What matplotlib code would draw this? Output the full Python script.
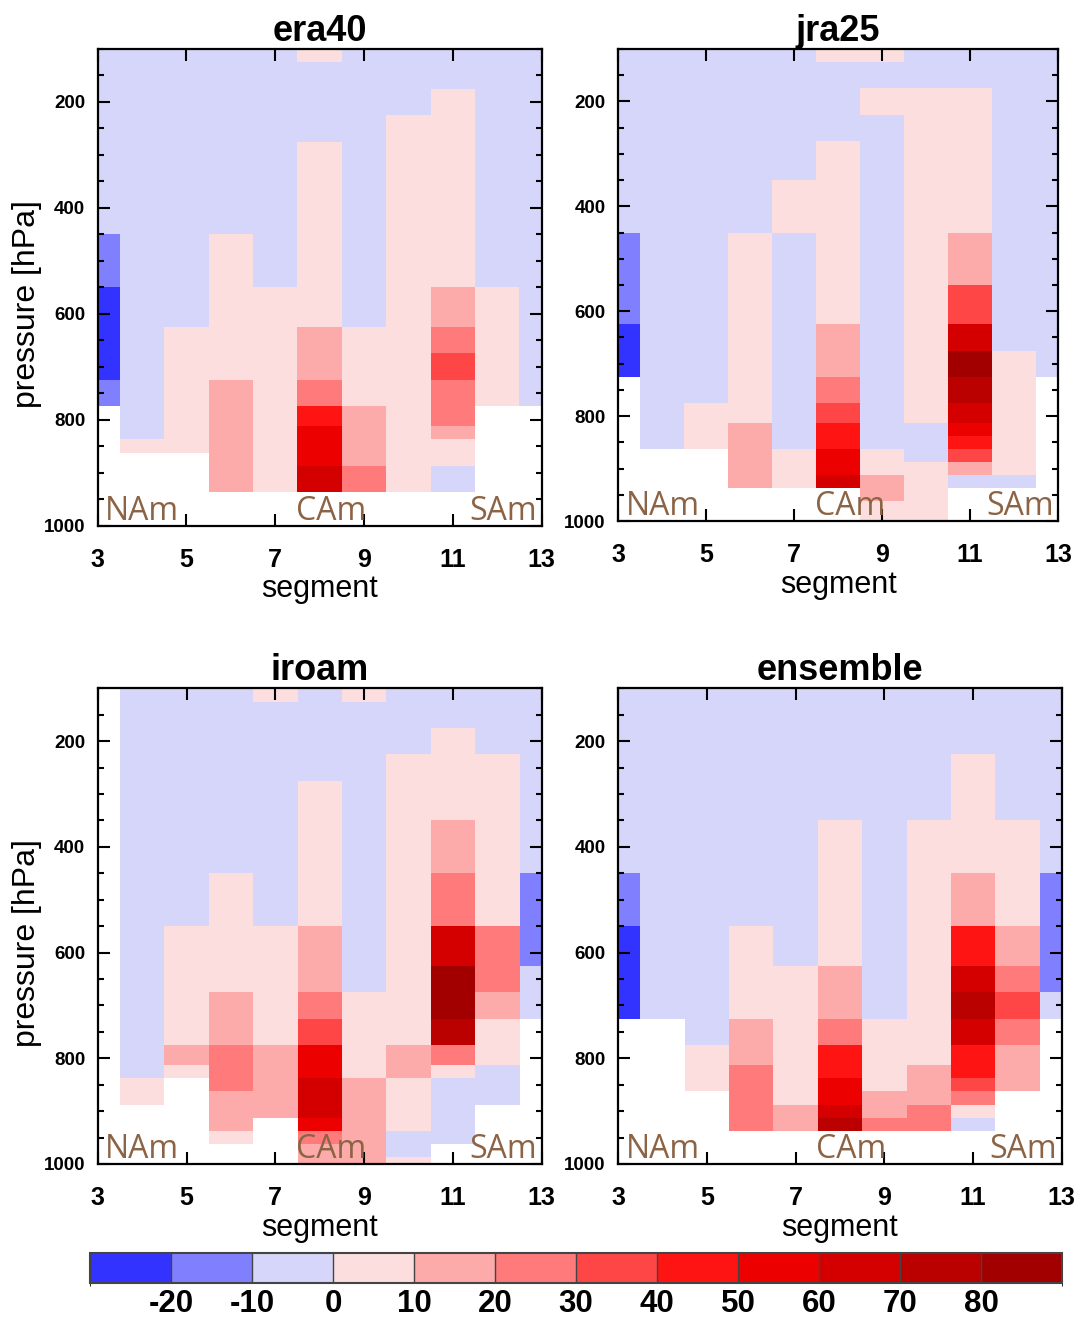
import numpy as np
import matplotlib
matplotlib.use("Agg")
import matplotlib.pyplot as plt
from matplotlib.colors import ListedColormap, BoundaryNorm
from matplotlib.ticker import MultipleLocator

plt.rcParams['font.family'] = ['Liberation Sans', 'DejaVu Sans']
plt.rcParams['axes.unicode_minus'] = False

N = np.nan

# segment numbers (columns) and pressure levels (rows, top to bottom)
segments = [3, 4, 5, 6, 7, 8, 9, 10, 11, 12, 13]
levels = [100, 150, 200, 250, 300, 400, 500, 600, 650, 700,
          750, 800, 825, 850, 875, 900, 925, 950, 975, 1000]

# contour levels and fill colours
bounds = [-30, -20, -10, 0, 10, 20, 30, 40, 50, 60, 70, 80, 90]
cb_ticks = [-20, -10, 0, 10, 20, 30, 40, 50, 60, 70, 80]
colors = ['#3333ff', '#8080ff', '#d6d6fa', '#fcdede', '#fcaaaa', '#ff7a7a',
          '#ff4646', '#ff1414', '#ec0000', '#d40000', '#bb0000', '#a20000']

era40 = [
    [-5, -5, -5, -5, -5, 5, -5, -5, -5, -5, -5],
    [-5, -5, -5, -5, -5, -5, -5, -5, -5, -5, -5],
    [-5, -5, -5, -5, -5, -5, -5, -5, 5, -5, -5],
    [-5, -5, -5, -5, -5, -5, -5, 5, 5, -5, -5],
    [-5, -5, -5, -5, -5, 5, -5, 5, 5, -5, -5],
    [-5, -5, -5, -5, -5, 5, -5, 5, 5, -5, -5],
    [-15, -5, -5, 5, -5, 5, -5, 5, 5, -5, -5],
    [-25, -5, -5, 5, 5, 5, -5, 5, 15, 5, -5],
    [-25, -5, 5, 5, 5, 15, 5, 5, 25, 5, -5],
    [-25, -5, 5, 5, 5, 15, 5, 5, 35, 5, -5],
    [-15, -5, 5, 15, 5, 25, 5, 5, 25, 5, -5],
    [N, -5, 5, 15, 5, 45, 15, 5, 25, N, N],
    [N, -5, 5, 15, 5, 55, 15, 5, 15, N, N],
    [N, 5, 5, 15, 5, 55, 15, 5, 5, N, N],
    [N, N, N, 15, 5, 55, 15, 5, 5, N, N],
    [N, N, N, 15, 5, 65, 25, 5, -5, N, N],
    [N, N, N, 15, 5, 65, 25, 5, -5, N, N],
    [N, N, N, N, N, N, N, N, N, N, N],
    [N, N, N, N, N, N, N, N, N, N, N],
    [N, N, N, N, N, N, N, N, N, N, N],
]

jra25 = [
    [-5, -5, -5, -5, -5, 5, 5, -5, -5, -5, -5],
    [-5, -5, -5, -5, -5, -5, -5, -5, -5, -5, -5],
    [-5, -5, -5, -5, -5, -5, 5, 5, 5, -5, -5],
    [-5, -5, -5, -5, -5, -5, -5, 5, 5, -5, -5],
    [-5, -5, -5, -5, -5, 5, -5, 5, 5, -5, -5],
    [-5, -5, -5, -5, 5, 5, -5, 5, 5, -5, -5],
    [-15, -5, -5, 5, -5, 5, -5, 5, 15, -5, -5],
    [-15, -5, -5, 5, -5, 5, -5, 5, 35, -5, -5],
    [-25, -5, -5, 5, -5, 15, -5, 5, 65, -5, -5],
    [-25, -5, -5, 5, -5, 15, -5, 5, 85, 5, -5],
    [N, -5, -5, 5, -5, 25, -5, 5, 75, 5, N],
    [N, -5, 5, 5, -5, 35, -5, 5, 65, 5, N],
    [N, -5, 5, 15, -5, 45, -5, -5, 55, 5, N],
    [N, -5, 5, 15, -5, 45, -5, -5, 45, 5, N],
    [N, N, N, 15, 5, 55, 5, -5, 35, 5, N],
    [N, N, N, 15, 5, 55, 5, 5, 15, 5, N],
    [N, N, N, 15, 5, 65, 15, 5, -5, -5, N],
    [N, N, N, N, N, N, 15, 5, N, N, N],
    [N, N, N, N, N, N, 5, 5, N, N, N],
    [N, N, N, N, N, N, 5, 5, N, N, N],
]

iroam = [
    [N, -5, -5, -5, 5, -5, 5, -5, -5, -5, -5],
    [N, -5, -5, -5, -5, -5, -5, -5, -5, -5, -5],
    [N, -5, -5, -5, -5, -5, -5, -5, 5, -5, -5],
    [N, -5, -5, -5, -5, -5, -5, 5, 5, 5, -5],
    [N, -5, -5, -5, -5, 5, -5, 5, 5, 5, -5],
    [N, -5, -5, -5, -5, 5, -5, 5, 15, 5, -5],
    [N, -5, -5, 5, -5, 5, -5, 5, 25, 5, -15],
    [N, -5, 5, 5, 5, 15, -5, 5, 65, 25, -15],
    [N, -5, 5, 5, 5, 15, -5, 5, 85, 25, -5],
    [N, -5, 5, 15, 5, 25, 5, 5, 85, 15, -5],
    [N, -5, 5, 15, 5, 35, 5, 5, 75, 5, N],
    [N, -5, 15, 25, 15, 55, 5, 15, 25, 5, N],
    [N, -5, 5, 25, 15, 55, 5, 15, 5, -5, N],
    [N, 5, N, 25, 15, 65, 15, 5, -5, -5, N],
    [N, 5, N, 15, 15, 65, 15, 5, -5, -5, N],
    [N, N, N, 15, 15, 65, 15, 5, -5, N, N],
    [N, N, N, 15, N, 55, 15, 5, -5, N, N],
    [N, N, N, 5, N, 25, 15, -5, -5, N, N],
    [N, N, N, N, N, 15, 15, -5, N, N, N],
    [N, N, N, N, N, 15, 15, 5, N, N, N],
]

ensemble = [
    [-5, -5, -5, -5, -5, -5, -5, -5, -5, -5, -5],
    [-5, -5, -5, -5, -5, -5, -5, -5, -5, -5, -5],
    [-5, -5, -5, -5, -5, -5, -5, -5, -5, -5, -5],
    [-5, -5, -5, -5, -5, -5, -5, -5, 5, -5, -5],
    [-5, -5, -5, -5, -5, -5, -5, -5, 5, -5, -5],
    [-5, -5, -5, -5, -5, 5, -5, 5, 5, 5, -5],
    [-15, -5, -5, -5, -5, 5, -5, 5, 15, 5, -15],
    [-25, -5, -5, 5, -5, 5, -5, 5, 45, 15, -15],
    [-25, -5, -5, 5, 5, 15, -5, 5, 65, 25, -15],
    [-25, -5, -5, 5, 5, 15, -5, 5, 75, 35, -5],
    [N, N, -5, 15, 5, 25, 5, 5, 65, 25, N],
    [N, N, 5, 15, 5, 45, 5, 5, 45, 15, N],
    [N, N, 5, 25, 5, 45, 5, 15, 45, 15, N],
    [N, N, 5, 25, 5, 55, 5, 15, 35, 15, N],
    [N, N, N, 25, 5, 55, 15, 15, 25, N, N],
    [N, N, N, 25, 15, 65, 15, 25, 5, N, N],
    [N, N, N, 25, 15, 75, 25, 25, -5, N, N],
    [N, N, N, N, N, N, N, N, N, N, N],
    [N, N, N, N, N, N, N, N, N, N, N],
    [N, N, N, N, N, N, N, N, N, N, N],
]

panels = [('era40', era40), ('jra25', jra25), ('iroam', iroam), ('ensemble', ensemble)]
regions = ['NAm', 'CAm', 'SAm']

# cell edges halfway between grid points
def edges(c):
    c = np.asarray(c, dtype=float)
    mid = 0.5 * (c[1:] + c[:-1])
    return np.concatenate([[c[0] - (mid[0] - c[0])], mid, [c[-1] + (c[-1] - mid[-1])]])

xe = edges(segments)
ye = edges(levels)

cmap = ListedColormap(colors)
cmap.set_bad('white')
norm = BoundaryNorm(bounds, cmap.N)

fig = plt.figure(figsize=(10.81, 13.21), dpi=100)
W, H = 1081., 1321.
# panel boxes in pixels: left, top, right, bottom
boxes = [(97.7, 49, 541.5, 525.5), (618.3, 49, 1058, 521),
         (97.7, 688.3, 541.7, 1164), (618.3, 688.3, 1061.7, 1164)]

for i, ((name, data), (l, t, r, b)) in enumerate(zip(panels, boxes)):
    ax = fig.add_axes([l / W, 1 - b / H, (r - l) / W, (b - t) / H])
    z = np.ma.masked_invalid(np.array(data, dtype=float))
    pm = ax.pcolormesh(xe, ye, z, cmap=cmap, norm=norm, edgecolors='none',
                       linewidth=0, antialiased=False)
    ax.set_xlim(3, 13)
    ax.set_ylim(1000, 100)
    ax.set_xticks([3, 5, 7, 9, 11, 13])
    ax.set_yticks([200, 400, 600, 800, 1000])
    ax.yaxis.set_minor_locator(MultipleLocator(50))
    ax.tick_params(which='both', direction='in', top=True, right=True, width=1.5, color='black')
    ax.tick_params(which='major', length=8.5)
    ax.tick_params(which='minor', length=4.5)
    ax.tick_params(axis='x', labelsize=18, pad=16)
    ax.tick_params(axis='y', labelsize=13.5, pad=9)
    for lab in ax.get_yticklabels() + ax.get_xticklabels():
        lab.set_fontweight('bold')
    for sp in ax.spines.values():
        sp.set_linewidth(1.6)
    ax.set_title(name, fontsize=26, fontweight='bold', pad=3)
    ax.set_xlabel('segment', fontsize=22, labelpad=2)
    if i % 2 == 0:
        ax.set_ylabel('pressure [hPa]', fontsize=23)
        ax.yaxis.set_label_coords(-0.125, 0.465)

    txt = dict(fontsize=23, color='#8c6445', family='Open Sans', va='baseline',
               transform=ax.transAxes)
    ax.text(0.017, 0.012, regions[0], ha='left', **txt)
    ax.text(0.447, 0.012, regions[1], ha='left', **txt)
    ax.text(0.99, 0.012, regions[2], ha='right', **txt)

cax = fig.add_axes([90 / W, 1 - 1283 / H, 972 / W, 30 / H])
cb = fig.colorbar(pm, cax=cax, orientation='horizontal', ticks=cb_ticks,
                  drawedges=True)
cb.outline.set_linewidth(1.5)
cb.outline.set_edgecolor('#444444')
cb.dividers.set_color('#444444')
cb.dividers.set_linewidth(1.0)
cax.tick_params(length=0, labelsize=22.5, pad=4)
for lab in cax.get_xticklabels():
    lab.set_fontweight('bold')

fig.savefig('out.png', dpi=100)
